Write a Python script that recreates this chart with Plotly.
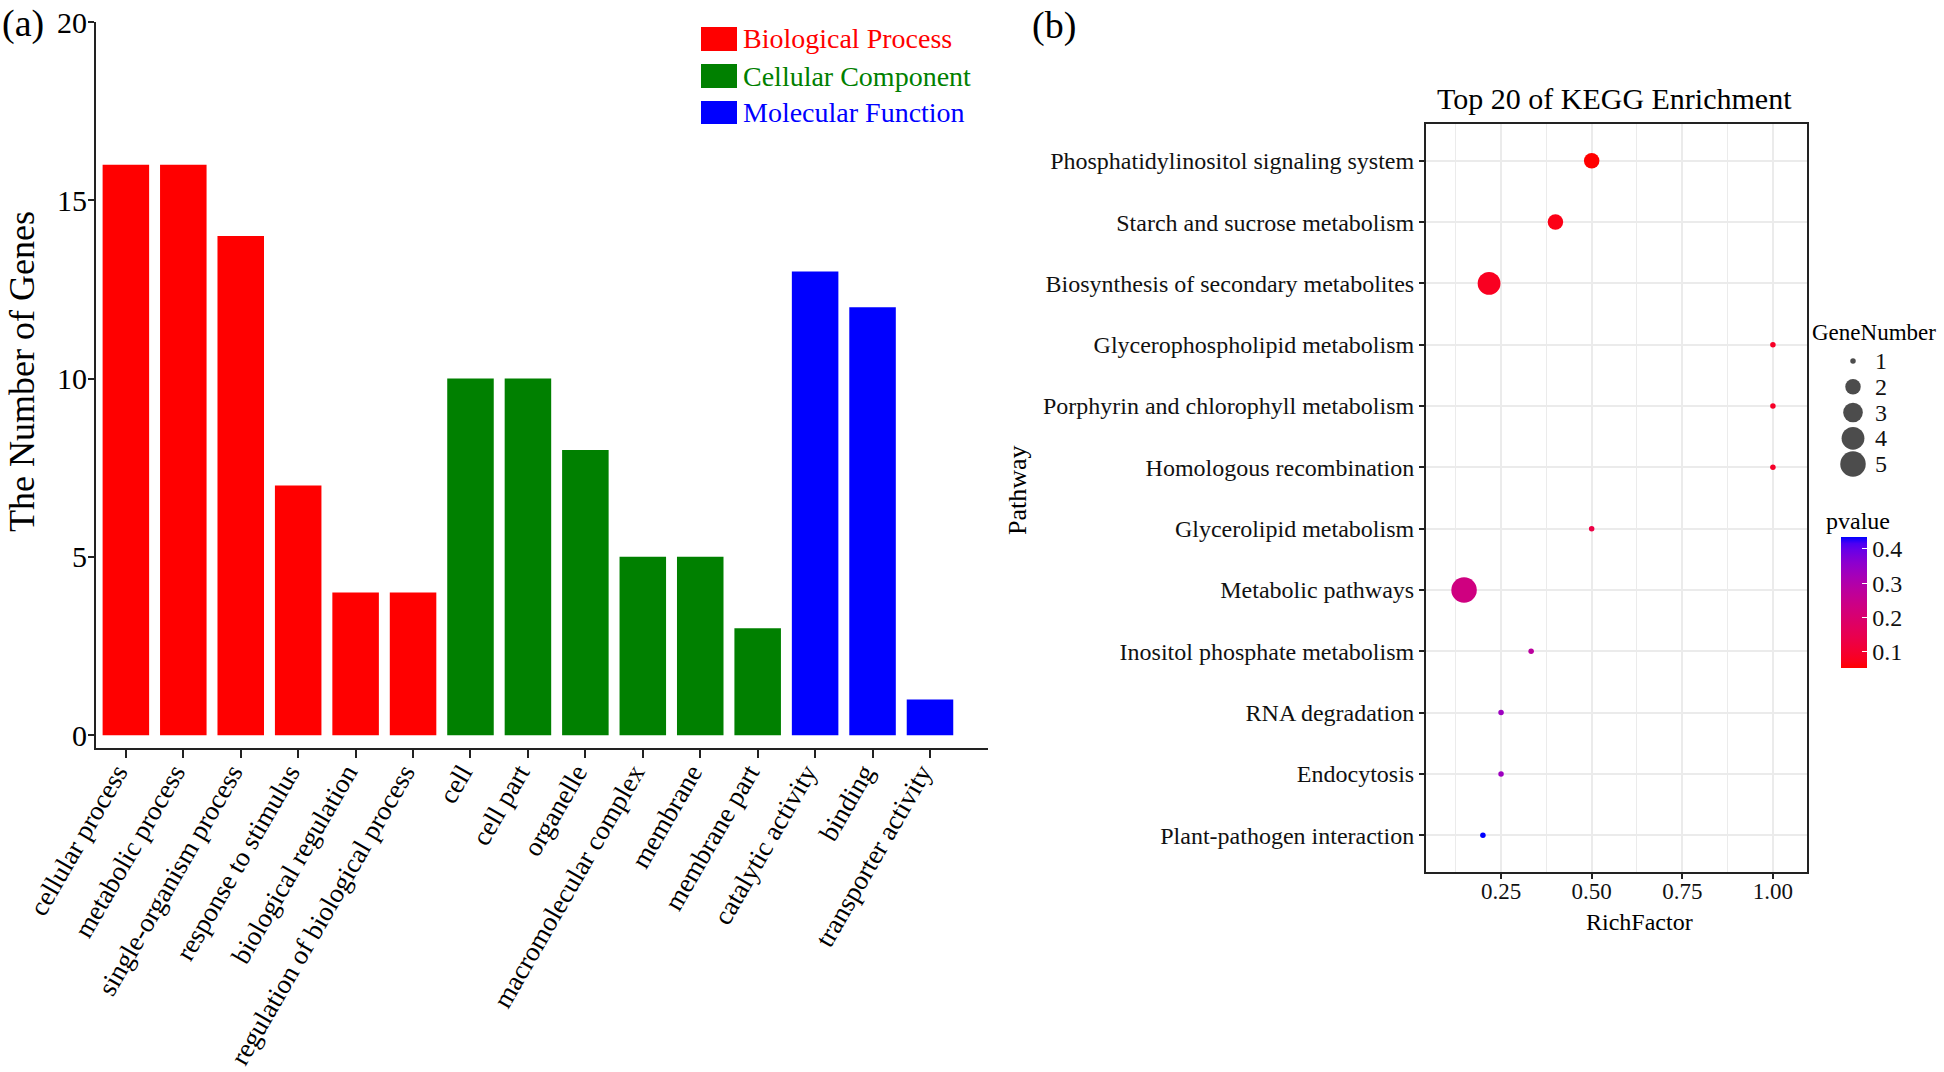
import numpy as np
import plotly.graph_objects as go

# ---------------- data: panel (a) GO classification ----------------
go_terms = ["cellular process", "metabolic process", "single-organism process",
            "response to stimulus", "biological regulation",
            "regulation of biological process", "cell", "cell part", "organelle",
            "macromolecular complex", "membrane", "membrane part",
            "catalytic activity", "binding", "transporter activity"]
go_counts = [16, 16, 14, 7, 4, 4, 10, 10, 8, 5, 5, 3, 13, 12, 1]
go_groups = (["Biological Process"] * 6 + ["Cellular Component"] * 6
             + ["Molecular Function"] * 3)
group_names = ["Biological Process", "Cellular Component", "Molecular Function"]
count_ticks = [0, 5, 10, 15, 20]

# ---------------- data: panel (b) KEGG enrichment ----------------
pathways = ["Phosphatidylinositol signaling system",
            "Starch and sucrose metabolism",
            "Biosynthesis of secondary metabolites",
            "Glycerophospholipid metabolism",
            "Porphyrin and chlorophyll metabolism",
            "Homologous recombination",
            "Glycerolipid metabolism",
            "Metabolic pathways",
            "Inositol phosphate metabolism",
            "RNA degradation",
            "Endocytosis",
            "Plant-pathogen interaction"]
rich_factor = [0.50, 0.40, 0.217, 1.00, 1.00, 1.00, 0.50, 0.148, 0.333, 0.25, 0.25, 0.20]
gene_number = [2, 2, 4, 1, 1, 1, 1, 5, 1, 1, 1, 1]
pvalue = [0.052, 0.068, 0.080, 0.085, 0.088, 0.090, 0.130, 0.230, 0.280, 0.335, 0.335, 0.435]
rich_ticks = [0.25, 0.50, 0.75, 1.00]
pvalue_ticks = [0.1, 0.2, 0.3, 0.4]
gene_legend_values = [1, 2, 3, 4, 5]

# ---------------- styling ----------------
W, H = 1944, 1072
FONT = "Liberation Serif"
group_colors = {"Biological Process": "#FF0000",
                "Cellular Component": "#008000",
                "Molecular Function": "#0000FF"}
AX = "#222222"


def px(x):
    return x / W


def py(y):
    return 1 - y / H


# Lab interpolation red -> blue (like ggplot scale_colour_gradient)
def _srgb_to_lab(rgb):
    c = np.array(rgb, float) / 255.0
    c = np.where(c <= 0.04045, c / 12.92, ((c + 0.055) / 1.055) ** 2.4)
    M = np.array([[0.4124564, 0.3575761, 0.1804375],
                  [0.2126729, 0.7151522, 0.0721750],
                  [0.0193339, 0.1191920, 0.9503041]])
    xyz = M @ c / np.array([0.95047, 1.0, 1.08883])
    f = np.where(xyz > 216 / 24389, np.cbrt(xyz), (24389 / 27 * xyz + 16) / 116)
    return np.array([116 * f[1] - 16, 500 * (f[0] - f[1]), 200 * (f[1] - f[2])])


def _lab_to_srgb(lab):
    L, a, b = lab
    fy = (L + 16) / 116
    fx = fy + a / 500
    fz = fy - b / 200
    f = np.array([fx, fy, fz])
    xyz = np.where(f ** 3 > 216 / 24389, f ** 3, (116 * f - 16) / (24389 / 27))
    xyz = xyz * np.array([0.95047, 1.0, 1.08883])
    Minv = np.array([[3.2404542, -1.5371385, -0.4985314],
                     [-0.9692660, 1.8760108, 0.0415560],
                     [0.0556434, -0.2040259, 1.0572252]])
    c = Minv @ xyz
    c = np.clip(c, 0, 1)
    c = np.where(c <= 0.0031308, 12.92 * c, 1.055 * c ** (1 / 2.4) - 0.055)
    c = np.clip(np.round(c * 255), 0, 255).astype(int)
    return "rgb(%d,%d,%d)" % tuple(c)


lab_lo = _srgb_to_lab((255, 0, 0))
lab_hi = _srgb_to_lab((0, 0, 255))
colorscale = [[t, _lab_to_srgb(lab_lo + (lab_hi - lab_lo) * t)]
              for t in np.linspace(0, 1, 21)]


def size_px(g):
    t = (np.asarray(g, float) - 1) / 4.0
    return 1.5 + 4.0 * (1 + 5 * np.sqrt(t))


fig = go.Figure()

# ---------------- panel (a) bars ----------------
for grp in group_names:
    ys = [c if g == grp else None for c, g in zip(go_counts, go_groups)]
    fig.add_trace(go.Bar(x=go_terms, y=ys, name=grp,
                         marker=dict(color=group_colors[grp], line=dict(width=0)),
                         showlegend=False, xaxis="x", yaxis="y"))

# ---------------- panel (b) bubbles ----------------
fig.add_trace(go.Scatter(
    x=rich_factor, y=pathways, mode="markers", xaxis="x2", yaxis="y2",
    showlegend=False,
    marker=dict(size=size_px(gene_number), color=pvalue, colorscale=colorscale,
                line=dict(width=0), opacity=1,
                colorbar=dict(
                    x=px(1841), xanchor="left", xpad=0,
                    y=py(602.5), yanchor="middle", ypad=0,
                    len=131, lenmode="pixels",
                    thickness=26, thicknessmode="pixels",
                    outlinewidth=0,
                    tickvals=pvalue_ticks, ticktext=[str(v) for v in pvalue_ticks],
                    ticks="inside", ticklen=5, tickcolor="white", tickwidth=1.2,
                    tickfont=dict(family=FONT, size=24, color="#111"),
                ))))

# size legend (GeneNumber)
fig.add_trace(go.Scatter(
    x=[0] * len(gene_legend_values), y=gene_legend_values, mode="markers",
    xaxis="x3", yaxis="y3", showlegend=False,
    marker=dict(size=size_px(gene_legend_values), color="black", line=dict(width=0))))

annotations = []
for v in gene_legend_values:
    annotations.append(dict(x=px(1873), y=v, xref="paper", yref="y3", text=str(v),
                            showarrow=False, xanchor="left", yanchor="middle",
                            font=dict(family=FONT, size=24, color="#111")))

# manual legend for panel (a)
shapes = []
leg_rows = [(27, 51), (64, 88), (101, 124)]
for grp, (y0, y1) in zip(group_names, leg_rows):
    shapes.append(dict(type="rect", xref="paper", yref="paper",
                       x0=px(701), x1=px(737), y0=py(y1), y1=py(y0),
                       fillcolor=group_colors[grp], line=dict(width=0)))
    annotations.append(dict(x=px(741), y=py((y0 + y1) / 2), xref="paper", yref="paper",
                            text=grp, showarrow=False, xanchor="left", yanchor="middle",
                            font=dict(family=FONT, size=28, color=group_colors[grp])))

# texts
annotations += [
    dict(x=px(0), y=py(24), text="(a)", xanchor="left", yanchor="middle",
         font=dict(family=FONT, size=38, color="black")),
    dict(x=px(1030), y=py(26), text="(b)", xanchor="left", yanchor="middle",
         font=dict(family=FONT, size=38, color="black")),
    dict(x=px(22), y=py(372), text="The Number of Genes", textangle=-90,
         xanchor="center", yanchor="middle",
         font=dict(family=FONT, size=36, color="black")),
    dict(x=px(1614), y=py(99), text="Top 20 of KEGG Enrichment",
         xanchor="center", yanchor="middle",
         font=dict(family=FONT, size=30, color="black")),
    dict(x=px(1017), y=py(490), text="Pathway", textangle=-90,
         xanchor="center", yanchor="middle",
         font=dict(family=FONT, size=26, color="black")),
    dict(x=px(1639), y=py(922), text="RichFactor", xanchor="center", yanchor="middle",
         font=dict(family=FONT, size=24, color="black")),
    dict(x=px(1810), y=py(333), text="GeneNumber", xanchor="left", yanchor="middle",
         font=dict(family=FONT, size=23, color="black")),
    dict(x=px(1824), y=py(521), text="pvalue", xanchor="left", yanchor="middle",
         font=dict(family=FONT, size=24, color="black")),
]
for a in annotations:
    a.setdefault("xref", "paper")
    a.setdefault("yref", "paper")
    a["showarrow"] = False

fig.update_layout(
    width=W, height=H, margin=dict(l=0, r=0, t=0, b=0),
    paper_bgcolor="white", plot_bgcolor="white",
    barmode="relative", bargap=0.19,
    font=dict(family=FONT, color="black"),
    annotations=annotations, shapes=shapes,
    xaxis=dict(domain=[px(96), px(988)], range=[-0.52, 15.01],
               type="category", categoryorder="array", categoryarray=go_terms,
               showline=True, linecolor=AX, linewidth=2, showgrid=False,
               ticks="outside", ticklen=8, tickwidth=1.5, tickcolor=AX,
               tickangle=-60, tickfont=dict(family=FONT, size=27, color="black"),
               ticklabelstandoff=-12, ticklabelshift=-9,
               automargin=False, anchor="y", zeroline=False),
    yaxis=dict(domain=[py(748), py(22)], range=[-0.36, 20],
               tickvals=count_ticks, ticktext=[str(v) for v in count_ticks],
               showline=True, linecolor=AX, linewidth=2, showgrid=False,
               ticks="outside", ticklen=6, tickwidth=1.5, tickcolor=AX,
               tickfont=dict(family=FONT, size=30, color="black"),
               ticklabelstandoff=-5,
               automargin=False, anchor="x", zeroline=False),
    xaxis2=dict(domain=[px(1426), px(1807)], range=[0.043, 1.094],
                tickvals=rich_ticks, ticktext=["%.2f" % v for v in rich_ticks],
                showline=True, mirror=True, linecolor=AX, linewidth=2,
                showgrid=True, gridcolor="#EBEBEB", gridwidth=1.6,
                minor=dict(dtick=0.125, tick0=0.125, showgrid=True,
                           gridcolor="#EBEBEB", gridwidth=1, ticks=""),
                ticks="outside", ticklen=5, tickwidth=1.5, tickcolor=AX,
                tickfont=dict(family=FONT, size=23, color="#111"),
                ticklabelstandoff=-8,
                automargin=False, anchor="y2", zeroline=False),
    yaxis2=dict(domain=[py(872), py(124)], range=[-0.6, 11.6],
                type="category", categoryorder="array",
                categoryarray=list(reversed(pathways)),
                showline=True, mirror=True, linecolor=AX, linewidth=2,
                showgrid=True, gridcolor="#EBEBEB", gridwidth=1.6,
                ticks="outside", ticklen=5, tickwidth=1.5, tickcolor=AX,
                tickfont=dict(family=FONT, size=24, color="#111"),
                automargin=False, anchor="x2", zeroline=False),
    xaxis3=dict(domain=[px(1840), px(1866)], range=[-1, 1], visible=False,
                fixedrange=True, anchor="y3"),
    yaxis3=dict(domain=[py(477), py(348)], range=[5.5, 0.5], visible=False,
                fixedrange=True, anchor="x3"),
)

fig.write_html("out.html",
               config={"displayModeBar": False},
               post_script="document.body.style.margin='0';"
                           "document.body.style.padding='0';")
